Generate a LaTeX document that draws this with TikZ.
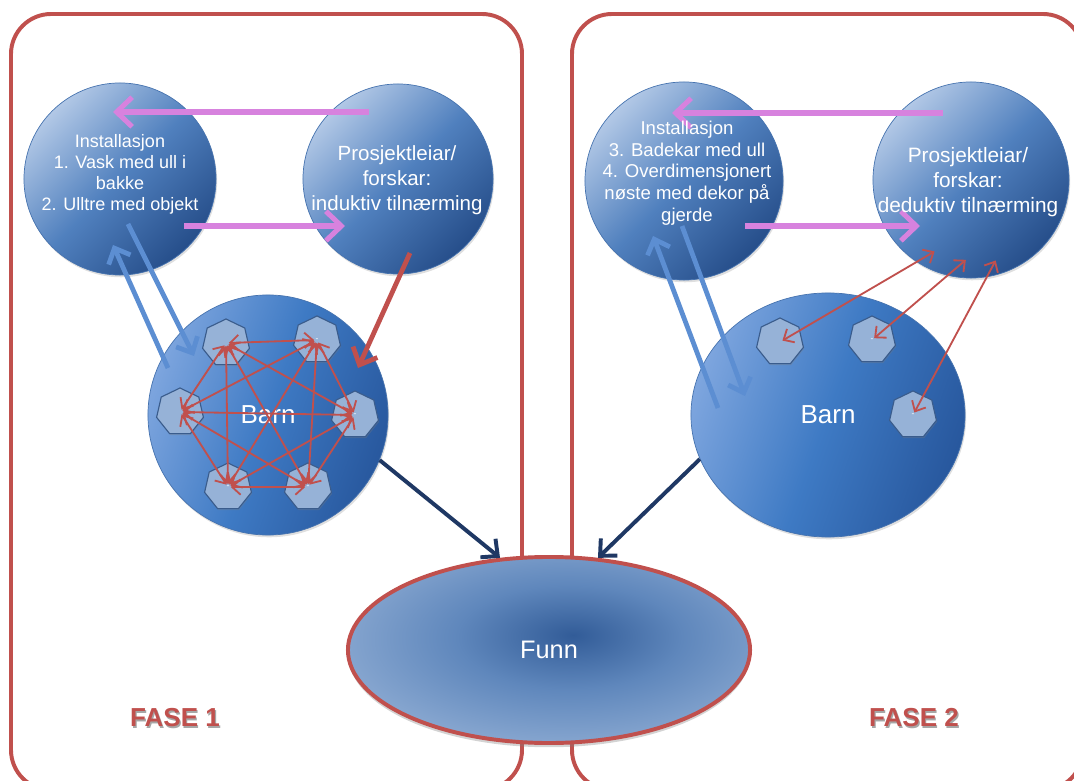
\documentclass[tikz,border=0pt]{standalone}
\usepackage{fontspec}
\setmainfont{Liberation Sans}
\usetikzlibrary{shapes.geometric,arrows.meta,shadows}

\definecolor{framered}{RGB}{192,80,77}
\definecolor{linkpink}{RGB}{215,130,222}
\definecolor{linkblue}{RGB}{92,142,210}
\definecolor{navy}{RGB}{31,56,100}
\definecolor{balllight}{RGB}{178,200,230}
\definecolor{ballmid}{RGB}{80,128,190}
\definecolor{balldark}{RGB}{38,78,138}
\definecolor{ballrim}{RGB}{70,115,175}
\definecolor{barnlight}{RGB}{125,165,222}
\definecolor{barnmid}{RGB}{62,122,196}
\definecolor{barndark}{RGB}{40,88,158}
\definecolor{heptfill}{RGB}{150,178,215}
\definecolor{heptrim}{RGB}{58,92,140}
\definecolor{funndark}{RGB}{50,92,152}
\definecolor{funnmid}{RGB}{95,135,188}
\definecolor{funnlight}{RGB}{150,178,215}
\definecolor{funnedge}{RGB}{225,234,245}

\pgfdeclareradialshading{funnshade}{\pgfpoint{3bp}{4bp}}{color(0bp)=(funndark); color(14bp)=(funnmid); color(34bp)=(funnlight); color(52bp)=(funnedge); color(100bp)=(funnedge)}

\begin{document}
\begin{tikzpicture}[x=0.025cm, y=-0.025cm,
  frame/.style={draw=framered, line width=2.8pt, rounded corners=1cm},
  ball/.style={circle, draw=ballrim, line width=0.5pt, top color=balllight, bottom color=balldark, middle color=ballmid, shading angle=45, drop shadow={opacity=0.25, shadow xshift=0.8pt, shadow yshift=-1.6pt}},
  barn/.style={draw=ballrim, line width=0.5pt, top color=barnlight, bottom color=barndark, middle color=barnmid, shading angle=70, text=white, font=\fontsize{18.5}{22}\selectfont, drop shadow={opacity=0.25, shadow xshift=0.8pt, shadow yshift=-1.6pt}},
  kid/.style={regular polygon, regular polygon sides=7, minimum size=1.2cm, inner sep=0pt, draw=heptrim, line width=0.8pt, fill=heptfill, text=white, font=\fontsize{6}{6}\selectfont, drop shadow={opacity=0.3, shadow xshift=0.5pt, shadow yshift=-1pt}},
  infotxt/.style={text=white, align=center},
  pink/.style={draw=linkpink, line width=3.6pt, -{Straight Barb[length=11pt, width=21pt]}},
  lightlink/.style={draw=linkblue, line width=3.4pt, -{Straight Barb[length=9pt, width=17pt]}},
  redlink/.style={draw=framered, line width=3.4pt, -{Straight Barb[length=10pt, width=19pt]}},
  kidlink/.style={draw=framered, line width=1.3pt, shorten <=2pt, shorten >=2pt, {Straight Barb[length=6pt, width=11pt]}-{Straight Barb[length=6pt, width=11pt]}},
  navylink/.style={draw=navy, line width=2.8pt, -{Straight Barb[length=9pt, width=17pt]}},
  fase/.style={font=\fontsize{18.5}{22}\bfseries}
]

\useasboundingbox (0,0) rectangle (1074,781);
\clip (0,0) rectangle (1074,781);

% AREAS %%%%%%%%%%%%%%%%%%%%%%%%%%%%%%%%%%%%%%%%%%%%%%%%%%%%%%%%%%%%%%%%%%

\draw[frame] (11,14) rectangle (522,790);
\draw[frame] (572,14) rectangle (1083,790);

\node[text=gray!70, fase] (S1) at (176.2,719.5) {FASE 1};
\node[text=framered, fase] (T1) at (175,718) {FASE 1};
\node[text=gray!70, fase] (S2) at (915.2,719.5) {FASE 2};
\node[text=framered, fase] (T2) at (914,718) {FASE 2};

% NODES %%%%%%%%%%%%%%%%%%%%%%%%%%%%%%%%%%%%%%%%%%%%%%%%%%%%%%%%%%%%%%%%%%

\node[ellipse, draw=framered, line width=2.8pt, shading=funnshade, minimum width=10.05cm, minimum height=4.65cm, text=white, font=\fontsize{18}{22}\selectfont, drop shadow={opacity=0.35, shadow xshift=0pt, shadow yshift=-3pt}] (F) at (549,650) {Funn};

\node[ball, minimum size=4.8cm] (I1) at (120,179) {};
\node[ball, minimum size=4.75cm] (P1) at (398,179) {};
\node[ball, minimum size=4.95cm] (I2) at (684,181) {};
\node[ball, minimum size=4.9cm] (P2) at (971,180) {};

\node[barn, circle, minimum size=6cm] (B1) at (268,415) {Barn};
\node[barn, ellipse, minimum width=6.85cm, minimum height=6.1cm] (B2) at (828,415) {Barn};

\node[kid] (L1) at (226,343) {};
\node[kid] (L2) at (317,340) {-};
\node[kid] (L3) at (355,415) {-};
\node[kid] (L4) at (308,487) {-};
\node[kid] (L5) at (228,487) {-};
\node[kid] (L6) at (180,412) {};

\node[kid] (R1) at (780,342) {};
\node[kid] (R2) at (872,340) {-};
\node[kid] (R3) at (913,415) {-};

\coordinate (a1) at (369,112);
\coordinate (a2) at (113,112);
\coordinate (a3) at (184,226);
\coordinate (a4) at (345,226);
\coordinate (a5) at (943,113);
\coordinate (a6) at (672,113);
\coordinate (a7) at (745,226);
\coordinate (a8) at (920,226);

\coordinate (b1) at (168,368);
\coordinate (b2) at (113,245);
\coordinate (b3) at (128,224);
\coordinate (b4) at (194,356);
\coordinate (b5) at (718,408);
\coordinate (b6) at (653,236);
\coordinate (b7) at (682,226);
\coordinate (b8) at (745,396);

\coordinate (c1) at (410,253);
\coordinate (c2) at (358,368);

\coordinate (d1) at (937,250);
\coordinate (d2) at (968,258);
\coordinate (d3) at (997,258);

% LINKS %%%%%%%%%%%%%%%%%%%%%%%%%%%%%%%%%%%%%%%%%%%%%%%%%%%%%%%%%%%%%%%%%%

\draw[kidlink] (L1.center) -- (L2.center);
\draw[kidlink] (L1.center) -- (L3.center);
\draw[kidlink] (L1.center) -- (L4.center);
\draw[kidlink] (L1.center) -- (L5.center);
\draw[kidlink] (L1.center) -- (L6.center);
\draw[kidlink] (L2.center) -- (L3.center);
\draw[kidlink] (L2.center) -- (L4.center);
\draw[kidlink] (L2.center) -- (L5.center);
\draw[kidlink] (L2.center) -- (L6.center);
\draw[kidlink] (L3.center) -- (L4.center);
\draw[kidlink] (L3.center) -- (L5.center);
\draw[kidlink] (L3.center) -- (L6.center);
\draw[kidlink] (L4.center) -- (L5.center);
\draw[kidlink] (L4.center) -- (L6.center);
\draw[kidlink] (L5.center) -- (L6.center);

\draw[kidlink] (R1.center) -- (d1);
\draw[kidlink] (R2.center) -- (d2);
\draw[kidlink] (R3.center) -- (d3);

\draw[pink] (a1) -- (a2);
\draw[pink] (a3) -- (a4);
\draw[pink] (a5) -- (a6);
\draw[pink] (a7) -- (a8);

\draw[lightlink] (b1) -- (b2);
\draw[lightlink] (b3) -- (b4);
\draw[lightlink] (b5) -- (b6);
\draw[lightlink] (b7) -- (b8);

\draw[redlink] (c1) -- (c2);

\draw[navylink] (B1.-22) -- (F.118);
\draw[navylink] (B2.-161) -- (F.62);

% ETIQUETTES

\node[infotxt, font=\fontsize{12.8}{15}\selectfont] (I1txt) at (120,174) {Installasjon\\1. Vask med ull i\\bakke\\2. Ulltre med objekt};
\node[infotxt, font=\fontsize{14.6}{17.8}\selectfont] (P1txt) at (397,180) {Prosjektleiar/\\forskar:\\induktiv tilnærming};
\node[infotxt, font=\fontsize{13.2}{15.4}\selectfont] (I2txt) at (687,173) {Installasjon\\3. Badekar med ull\\4. Overdimensjonert\\nøste med dekor på\\gjerde};
\node[infotxt, font=\fontsize{14.8}{17.8}\selectfont] (P2txt) at (968,182) {Prosjektleiar/\\forskar:\\deduktiv tilnærming};

\end{tikzpicture}
\end{document}
